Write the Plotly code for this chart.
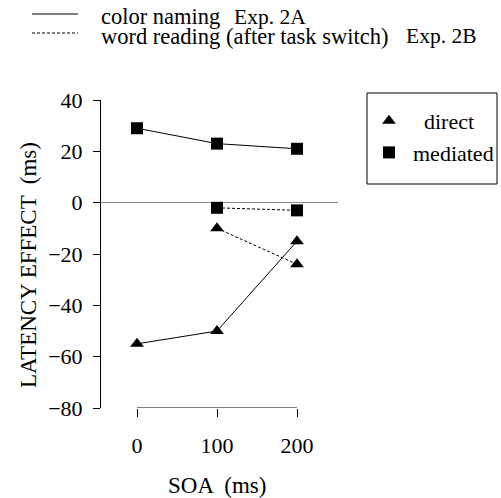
import plotly.graph_objects as go

# SOA conditions (ms) and latency effects (ms)
soa = [0, 100, 200]
soa_switch = [100, 200]
color_direct = [-55, -50, -15]      # color naming, Exp. 2A
color_mediated = [29, 23, 21]
word_direct = [-10, -24]            # word reading after task switch, Exp. 2B
word_mediated = [-2, -3]
y_ticks = [-80, -60, -40, -20, 0, 20, 40]

W, H = 501, 498
FONT = "Liberation Serif"


def fx(p):
    return p / W


def fy(p):
    return 1 - p / H


def tf(size=22):
    return dict(family=FONT, size=size, color="black")


fig = go.Figure()

tri = dict(symbol="triangle-up", size=12, color="black")
sq = dict(symbol="square", size=12, color="black")
solid = dict(color="black", width=1)
dashed = dict(color="black", width=1, dash="3px,2px")

fig.add_trace(go.Scatter(x=soa, y=color_mediated, mode="lines+markers",
                         line=solid, marker=sq, showlegend=False))
fig.add_trace(go.Scatter(x=soa, y=color_direct, mode="lines+markers",
                         line=solid, marker=tri, showlegend=False))
fig.add_trace(go.Scatter(x=soa_switch, y=word_mediated, mode="lines+markers",
                         line=dashed, marker=sq, showlegend=False))
fig.add_trace(go.Scatter(x=soa_switch, y=word_direct, mode="lines+markers",
                         line=dashed, marker=tri, showlegend=False))

# legend entries for the marker types
fig.add_trace(go.Scatter(x=[None], y=[None], mode="markers", marker=tri,
                         name="  direct", legendgroup="a"))
fig.add_trace(go.Scatter(x=[None], y=[None], mode="markers", marker=sq,
                         name="mediated", legendgroup="b"))

# frame around the marker legend
fig.add_shape(type="rect", xref="paper", yref="paper",
              x0=fx(367), x1=fx(497), y0=fy(184), y1=fy(93),
              line=dict(color="black", width=1), fillcolor="rgba(0,0,0,0)")

# x-axis baseline spans the SOA range only
fig.add_shape(type="line", xref="x", yref="y",
              x0=min(soa), x1=max(soa), y0=min(y_ticks), y1=min(y_ticks),
              line=dict(color="black", width=1))

# line-style key at the top
key_rows = [
    (14, 17, None, "color naming", 233, "Exp. 2A"),
    (33, 36, "3px,2px", "word reading (after task switch)", 405, "Exp. 2B"),
]
for ly, ty, dash, label, ex, exp in key_rows:
    fig.add_shape(type="line", xref="paper", yref="paper",
                  x0=fx(32), x1=fx(78), y0=fy(ly), y1=fy(ly),
                  line=dict(color="black", width=1, dash=dash))
    fig.add_annotation(x=fx(100), y=fy(ty), xref="paper", yref="paper",
                       text=label, showarrow=False, xanchor="left",
                       yanchor="middle", font=tf(22.5), borderpad=0)
    fig.add_annotation(x=fx(ex), y=fy(ty), xref="paper", yref="paper",
                       text=exp, showarrow=False, xanchor="left",
                       yanchor="middle", font=tf(21.5), borderpad=0)

# axis titles
fig.add_annotation(x=fx(28), y=fy(265), xref="paper", yref="paper",
                   text="LATENCY EFFECT  (ms)", textangle=-90, showarrow=False,
                   xanchor="center", yanchor="middle", font=tf(23))
fig.add_annotation(x=fx(217), y=fy(485), xref="paper", yref="paper",
                   text="SOA  (ms)", showarrow=False,
                   xanchor="center", yanchor="middle", font=tf(23))

fig.update_layout(
    width=W, height=H,
    margin=dict(l=0, r=0, t=0, b=0),
    paper_bgcolor="white", plot_bgcolor="white",
    font=tf(),
    xaxis=dict(domain=[fx(101), fx(338)], range=[-45, 251.25],
               tickvals=soa, ticks="outside", ticklen=8, tickcolor="black",
               tickwidth=1, showline=False, showgrid=False, zeroline=False,
               ticklabelstandoff=10, tickfont=tf(), automargin=False),
    yaxis=dict(domain=[fy(408), fy(100)], range=[-80, 40],
               tickvals=y_ticks, ticks="outside", ticklen=7, tickcolor="black",
               tickwidth=1, showline=True, linecolor="black", linewidth=1,
               showgrid=False, zeroline=True, zerolinecolor="#8a8a8a",
               zerolinewidth=1, ticklabelstandoff=6, tickfont=tf(),
               automargin=False),
    legend=dict(x=fx(365), y=fy(100), xanchor="left", yanchor="top",
                borderwidth=0, bgcolor="rgba(0,0,0,0)",
                font=tf(), tracegroupgap=0, itemwidth=38,
                traceorder="grouped"),
)

fig.write_html("out.html")
